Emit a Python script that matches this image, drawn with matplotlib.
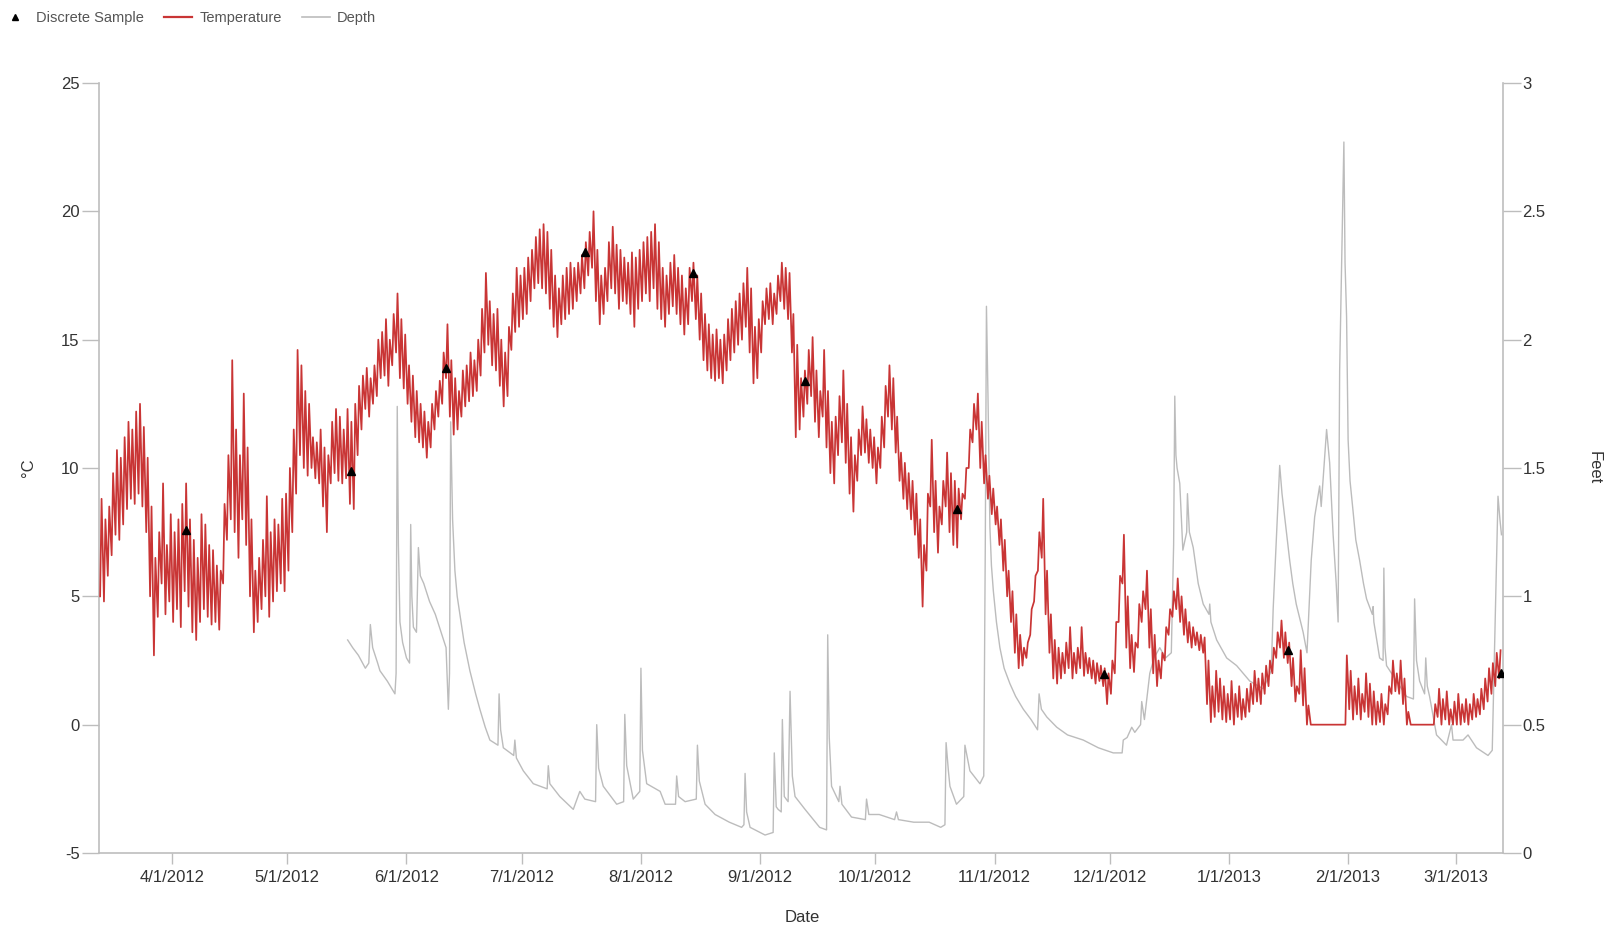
import numpy as np
import pandas as pd
import matplotlib
matplotlib.use("Agg")
import matplotlib.pyplot as plt
from matplotlib.lines import Line2D

plt.rcParams['font.family'] = ['Liberation Sans', 'DejaVu Sans']

START = "2012-03-13"

# daily maximum / minimum water temperature (deg C), one value per day from 3/13/2012
TEMP_MAX = (
    [8.8, 8.0, 8.5, 9.8, 10.7, 10.4, 11.2, 11.8, 11.5, 12.2, 12.5, 11.6, 10.4, 8.5, 6.5, 7.5, 9.4, 7.0, 8.2]
    + [7.5, 8.0, 8.6, 9.4, 8.0, 7.2, 6.5, 8.2, 7.8, 7.0, 6.8, 6.2, 6.0, 8.6, 10.5, 14.2, 11.5, 10.5, 12.9, 10.8,
       8.0, 6.0, 6.5, 7.2, 8.9, 7.5, 8.0, 7.8, 8.8, 9.0]
    + [10.0, 11.5, 14.6, 14.0, 13.0, 12.5, 11.2, 11.0, 11.5, 10.8, 10.5, 11.8, 12.3, 12.0, 11.5, 12.3, 11.8, 12.5,
       13.2, 13.6, 13.9, 13.5, 14.0, 15.0, 15.3, 15.8, 15.0, 16.0, 16.8, 15.8, 15.2]
    + [14.0, 13.6, 13.0, 12.5, 12.2, 11.8, 12.5, 13.0, 13.4, 14.5, 15.6, 14.2, 13.5, 13.0, 13.8, 14.0, 14.5, 14.2,
       15.0, 16.2, 17.6, 16.5, 16.0, 16.2, 15.0, 14.5, 15.5, 16.8, 17.8, 17.5]
    + [17.8, 18.2, 18.5, 19.0, 19.3, 19.5, 19.2, 18.5, 17.5, 17.0, 17.5, 17.8, 18.0, 17.8, 18.0, 18.3, 18.8, 19.2,
       20.0, 18.5, 17.5, 17.8, 18.8, 19.4, 18.7, 18.5, 18.2, 18.0, 18.4, 18.2, 18.5]
    + [18.8, 19.0, 19.2, 19.5, 18.8, 17.8, 17.5, 18.0, 18.3, 17.8, 17.5, 17.0, 17.8, 18.0, 17.5, 16.8, 16.0, 15.6,
       15.2, 15.4, 15.0, 15.2, 15.8, 16.2, 16.5, 16.8, 17.2, 17.8, 17.0, 15.5, 15.8]
    + [16.5, 17.0, 17.2, 16.8, 17.5, 18.0, 17.8, 17.6, 16.0, 14.8, 13.5, 13.8, 14.6, 15.1, 13.8, 13.0, 14.6, 13.0,
       11.8, 12.0, 12.8, 13.8, 12.5, 11.2, 10.5, 11.5, 12.4, 11.9, 11.5, 11.2]
    + [10.8, 12.0, 13.2, 14.0, 13.5, 12.0, 10.6, 10.2, 9.8, 9.5, 9.0, 8.0, 7.0, 9.0, 11.1, 9.5, 8.5, 9.5, 10.6,
       9.8, 9.5, 9.2, 9.0, 10.0, 11.5, 12.5, 12.9, 11.8, 10.5, 9.7, 9.2]
    + [8.5, 8.0, 7.2, 6.0, 5.2, 4.3, 3.5, 3.0, 3.2, 4.5, 5.8, 7.5, 8.8, 6.0, 4.3, 3.3, 3.0, 2.8, 3.2, 3.8, 2.8,
       3.0, 3.8, 2.8, 2.6, 2.5, 2.4, 2.3, 2.2, 2.0]
    + [2.5, 4.0, 5.8, 7.4, 5.0, 3.5, 3.2, 4.7, 5.2, 6.0, 4.5, 3.5, 2.5, 2.8, 3.8, 4.5, 5.2, 5.7, 5.0, 4.5, 4.0,
       3.8, 3.6, 3.5, 3.4, 2.5, 1.5, 2.1, 1.8, 1.5, 1.2]
    + [1.7, 1.2, 1.5, 1.0, 1.4, 1.6, 2.1, 1.8, 2.0, 2.3, 2.5, 3.0, 3.6, 4.06, 3.6, 3.2, 2.6, 1.5, 2.9, 2.2, 0.75,
       0.0, 0.0, 0.0, 0.0, 0.0, 0.0, 0.0, 0.0, 0.0, 2.7]
    + [2.1, 1.5, 1.8, 1.2, 2.0, 1.6, 1.3, 0.9, 1.2, 0.8, 1.5, 2.5, 2.0, 2.5, 1.8, 0.5, 0.0, 0.0, 0.0, 0.0, 0.0,
       0.0, 0.8, 1.4, 1.0, 1.3, 0.6, 0.9]
    + [1.2, 0.8, 1.0, 0.8, 1.2, 1.0, 1.4, 1.8, 2.2, 2.4, 2.8, 2.9]
)
TEMP_MIN = (
    [5.0, 4.8, 5.8, 6.6, 7.4, 7.2, 7.8, 8.4, 8.8, 8.6, 9.0, 8.5, 7.5, 5.0, 2.7, 4.2, 5.5, 4.3, 4.8]
    + [4.0, 4.5, 3.8, 5.2, 4.6, 3.6, 3.3, 4.0, 4.5, 4.2, 3.9, 4.0, 3.7, 5.5, 7.2, 8.0, 7.5, 6.5, 8.0, 7.0, 5.0,
       3.6, 4.0, 4.5, 5.0, 4.2, 4.8, 5.2, 5.5, 5.2]
    + [6.0, 7.5, 9.0, 10.5, 10.0, 9.7, 10.0, 9.6, 9.4, 8.5, 7.5, 9.4, 9.8, 9.5, 9.4, 9.6, 8.6, 8.4, 10.5, 11.5,
       12.3, 12.0, 12.5, 12.8, 13.5, 13.6, 13.2, 14.0, 14.5, 13.5, 13.1]
    + [12.5, 11.8, 11.2, 11.0, 10.8, 10.4, 10.8, 11.5, 12.0, 12.5, 13.5, 12.0, 11.3, 11.5, 12.0, 12.4, 12.6, 12.8,
       13.0, 13.6, 14.5, 14.8, 14.0, 13.8, 13.2, 12.4, 12.8, 14.6, 15.3, 15.5]
    + [15.8, 16.0, 16.5, 17.0, 17.2, 17.0, 16.8, 16.2, 15.5, 15.1, 15.6, 15.8, 16.0, 16.2, 16.5, 16.8, 17.0, 17.5,
       17.8, 16.5, 15.6, 16.0, 16.5, 17.0, 16.8, 16.2, 16.5, 16.4, 16.0, 15.5, 16.2]
    + [16.5, 16.8, 16.5, 17.0, 16.2, 15.8, 15.5, 16.0, 16.3, 16.0, 15.6, 15.2, 15.6, 16.5, 15.8, 15.0, 14.2, 13.8,
       13.5, 13.4, 13.5, 13.3, 13.8, 14.2, 14.5, 14.8, 15.0, 15.5, 14.5, 13.3, 13.5]
    + [14.5, 15.6, 15.8, 15.6, 16.0, 16.5, 16.2, 15.8, 14.5, 11.2, 11.5, 12.0, 12.5, 12.8, 11.8, 11.2, 12.0, 10.8,
       9.8, 9.4, 10.5, 11.0, 10.2, 9.0, 8.3, 9.5, 10.5, 10.6, 10.2, 10.0]
    + [9.4, 10.0, 10.8, 12.0, 11.5, 10.6, 9.5, 8.8, 8.4, 8.0, 7.4, 6.5, 4.6, 6.0, 8.5, 7.5, 6.7, 7.8, 8.5, 7.5,
       7.0, 6.9, 8.0, 8.8, 10.0, 11.0, 11.5, 10.0, 9.4, 8.8, 8.2]
    + [7.8, 7.0, 6.0, 5.0, 4.0, 2.8, 2.2, 2.3, 2.6, 3.5, 4.8, 6.0, 6.5, 4.3, 2.8, 1.8, 1.6, 1.8, 2.0, 2.2, 1.8,
       2.0, 2.2, 1.9, 2.0, 1.8, 1.6, 1.7, 1.5, 0.8]
    + [1.2, 2.0, 4.0, 5.5, 3.0, 2.2, 2.05, 3.0, 4.0, 4.5, 3.0, 2.0, 1.5, 1.8, 2.5, 3.5, 4.2, 4.5, 4.0, 3.5, 3.2,
       3.0, 3.1, 2.9, 2.8, 0.8, 0.1, 0.3, 0.5, 0.2, 0.1]
    + [0.2, 0.0, 0.3, 0.2, 0.3, 0.5, 0.8, 0.9, 0.8, 1.2, 1.5, 2.0, 2.6, 3.0, 2.6, 2.4, 1.5, 0.9, 1.2, 0.75, 0.0,
       0.0, 0.0, 0.0, 0.0, 0.0, 0.0, 0.0, 0.0, 0.0, 0.0]
    + [0.6, 0.2, 0.4, 0.2, 0.5, 0.3, 0.0, 0.0, 0.1, 0.0, 0.4, 1.2, 1.3, 1.2, 0.8, 0.0, 0.0, 0.0, 0.0, 0.0, 0.0,
       0.0, 0.0, 0.3, 0.0, 0.2, 0.0, 0.0]
    + [0.0, 0.0, 0.1, 0.0, 0.2, 0.3, 0.4, 0.6, 0.9, 1.2, 1.5, 1.8]
)

# depth record (feet): day offset from START and value
DEPTH_DAY = [64.7, 66, 67.5, 69.3, 70.2, 70.6, 71.2, 72.5, 73.1, 75, 77.0, 77.3, 77.6, 77.9, 78.3, 79, 80, 80.8,
             81.1, 81.4, 81.8, 82.6, 83.1, 83.6, 84.5, 86, 87.5, 89, 90.3, 90.9, 91.2, 91.5, 92.0, 92.6, 93.2,
             93.9, 95.0, 96.5, 98.0, 99.1, 100.5, 101.7, 103.8, 104.1, 104.5, 105.2, 107.9, 108.2, 108.6, 110.4,
             113.0, 116.6, 116.9, 117.3, 119.9, 123.4, 125.1, 126.4, 129.2, 129.5, 130.0, 131.2, 134.7, 136.5,
             136.8, 137.3, 139.0, 140.7, 141.0, 141.4, 142.5, 146.0, 147.3, 150.0, 150.3, 150.8, 152.5, 155.4,
             155.7, 156.2, 157.7, 160.3, 164, 167.2, 167.8, 168.1, 168.5, 169.4, 173.3, 175.4, 175.7, 176.2,
             176.7, 177.5, 177.8, 178.3, 179.3, 179.8, 180.4, 181.1, 183.7, 187.5, 189.3, 189.6, 190.0, 190.6,
             192.5, 192.8, 193.3, 195.8, 199.4, 199.7, 200.3, 203.0, 207.0, 207.5, 208.0, 212.0, 216.0, 219.0,
             220.1, 220.4, 221.0, 221.4, 223.1, 225.0, 225.3, 226.6, 229.2, 230.2, 230.6, 230.9, 231.3, 231.8,
             232.2, 232.7, 233.5, 234.4, 235.5, 237.0, 238.5, 240.5, 242.5, 244.2, 244.6, 245.2, 246.6, 249.2,
             252.0, 256.1, 260.0, 263.9, 266.2, 266.5, 267.5, 268.7, 269.5, 271.0, 271.3, 272.0, 273.4, 274.5,
             276.0, 277.5, 279.0, 279.6, 279.9, 280.2, 280.5, 281.2, 282.0, 283.0, 283.2, 283.7, 284.7, 286.0,
             287.3, 288.8, 289.0, 289.3, 290.8, 293.4, 296.0, 299.4, 302.9, 305.0, 305.5, 307.2, 307.8, 308.5,
             309.8, 310.6, 311.5, 313.3, 314.3, 315.4, 316.3, 317.6, 318.0, 319.4, 320.2, 321.1, 321.9, 322.4,
             322.8, 323.9, 324.2, 324.6, 325.0, 325.5, 326.3, 327.0, 328.0, 329.0, 329.8, 331.3, 331.5, 331.7,
             333.2, 334.1, 334.3, 334.6, 335.0, 337.6, 340.2, 342.0, 342.3, 342.8, 343.6, 344.9, 345.2, 345.6,
             346.2, 348.0, 350.6, 351.9, 352.3, 354.9, 356.2, 358.4, 361.4, 362.5, 363.2, 364.0, 364.5, 364.9]
DEPTH_FT = [0.83, 0.80, 0.77, 0.72, 0.74, 0.89, 0.80, 0.74, 0.71, 0.67, 0.62, 0.70, 1.74, 1.20, 0.90, 0.82, 0.76,
            0.74, 1.28, 1.00, 0.88, 0.86, 1.19, 1.08, 1.05, 0.98, 0.93, 0.86, 0.80, 0.56, 0.70, 1.68, 1.30, 1.10,
            1.00, 0.93, 0.82, 0.71, 0.62, 0.56, 0.49, 0.44, 0.42, 0.62, 0.48, 0.41, 0.38, 0.44, 0.37, 0.32,
            0.27, 0.25, 0.34, 0.27, 0.22, 0.17, 0.24, 0.21, 0.20, 0.50, 0.33, 0.26, 0.19, 0.20,
            0.54, 0.34, 0.21, 0.24, 0.72, 0.40, 0.27, 0.24, 0.19, 0.19, 0.30, 0.22, 0.20, 0.21,
            0.42, 0.28, 0.19, 0.15, 0.12, 0.10, 0.11, 0.31, 0.16, 0.10, 0.07, 0.08, 0.39, 0.18,
            0.17, 0.16, 0.52, 0.22, 0.20, 0.63, 0.30, 0.22, 0.17, 0.10, 0.09, 0.85, 0.45, 0.26,
            0.20, 0.26, 0.19, 0.14, 0.13, 0.21, 0.15, 0.15, 0.13, 0.16, 0.13, 0.12, 0.12, 0.10,
            0.11, 0.43, 0.32, 0.26, 0.19, 0.22, 0.42, 0.32, 0.27, 0.30, 1.20, 2.13, 1.78, 1.27,
            1.12, 1.02, 0.90, 0.80, 0.72, 0.66, 0.61, 0.56, 0.52, 0.48, 0.62, 0.56, 0.53, 0.49,
            0.46, 0.44, 0.41, 0.39, 0.39, 0.44, 0.45, 0.49, 0.47, 0.50, 0.59, 0.52, 0.70, 0.76,
            0.80, 0.76, 0.78, 1.20, 1.78, 1.55, 1.50, 1.44, 1.18, 1.25, 1.40, 1.25, 1.19, 1.05,
            0.97, 0.93, 0.97, 0.90, 0.83, 0.76, 0.73, 0.67, 0.64, 0.71, 0.95, 1.51, 1.40, 1.31,
            1.14, 1.05, 0.97, 0.86, 0.78, 1.14, 1.31, 1.43, 1.35, 1.65, 1.52, 1.24, 1.05, 0.90,
            1.88, 2.77, 2.30, 2.09, 1.61, 1.45, 1.33, 1.22, 1.14, 1.05, 0.99, 0.93, 0.96, 0.90,
            0.76, 0.75, 1.11, 0.80, 0.73, 0.67, 0.61, 0.60, 0.99, 0.75, 0.67, 0.62, 0.76, 0.65,
            0.61, 0.46, 0.42, 0.50, 0.44, 0.44, 0.46, 0.41, 0.38, 0.40, 0.86, 1.39, 1.30, 1.24]

# discrete samples (day offset from START, deg C)
SAMPLE_DAY = [22.6, 65.6, 90.4, 126.4, 154.6, 183.7, 223.3, 261.5, 309.4, 364.9]
SAMPLE_C = [7.6, 9.9, 13.9, 18.4, 17.6, 13.4, 8.4, 1.96, 2.9, 2.0]

XTICK_DATES = ["2012-04-01", "2012-05-01", "2012-06-01", "2012-07-01", "2012-08-01", "2012-09-01",
               "2012-10-01", "2012-11-01", "2012-12-01", "2013-01-01", "2013-02-01", "2013-03-01"]
XTICK_LABELS = ["4/1/2012", "5/1/2012", "6/1/2012", "7/1/2012", "8/1/2012", "9/1/2012", "10/1/2012",
                "11/1/2012", "12/1/2012", "1/1/2013", "2/1/2013", "3/1/2013"]
YTICKS_C = [-5, 0, 5, 10, 15, 20, 25]
YTICKS_FT = [0, 0.5, 1, 1.5, 2, 2.5, 3]
YTICK_FT_LABELS = ["0", "0.5", "1", "1.5", "2", "2.5", "3"]

assert len(TEMP_MAX) == len(TEMP_MIN) == 365
assert len(DEPTH_DAY) == len(DEPTH_FT)

start = pd.Timestamp(START)
days = np.arange(len(TEMP_MAX))
t_min = start + pd.to_timedelta(days + 7 / 24, unit="D")
t_max = start + pd.to_timedelta(days + 16 / 24, unit="D")
temp_t = np.empty(2 * len(days), dtype="datetime64[ns]")
temp_v = np.empty(2 * len(days))
temp_t[0::2] = t_min.values
temp_t[1::2] = t_max.values
temp_v[0::2] = TEMP_MIN
temp_v[1::2] = TEMP_MAX

depth_t = start + pd.to_timedelta(np.array(DEPTH_DAY), unit="D")
sample_t = start + pd.to_timedelta(np.array(SAMPLE_DAY), unit="D")

RED = "#c93535"
GREY = "#bcbcbc"
SPINE = "#bdbdbd"
TXT = "#333333"

fig = plt.figure(figsize=(16.12, 9.32), dpi=100)
ax = fig.add_axes([99 / 1612, 1 - 853 / 932, (1503 - 99) / 1612, (853 - 83) / 932])
ax2 = ax.twinx()

ax2.plot(depth_t, DEPTH_FT, color=GREY, lw=1.0, zorder=2)
ax.plot(temp_t, temp_v, color=RED, lw=1.25, zorder=3)
ax.plot(sample_t, SAMPLE_C, linestyle="none", marker="^", color="black", markersize=6, zorder=5)

ax.set_zorder(ax2.get_zorder() + 1)
ax.patch.set_visible(False)

ax.set_xlim(start, start + pd.Timedelta(days=365.3))
ax.set_ylim(-5, 25)
ax2.set_ylim(0, 3)

ax.set_xticks(pd.to_datetime(XTICK_DATES))
ax.set_xticklabels(XTICK_LABELS)
ax.set_yticks(YTICKS_C)
ax.set_yticklabels([str(v) for v in YTICKS_C])
ax2.set_yticks(YTICKS_FT)
ax2.set_yticklabels(YTICK_FT_LABELS)

for a in (ax, ax2):
    for s in a.spines.values():
        s.set_color(SPINE)
        s.set_linewidth(1.2)
    a.spines["top"].set_visible(False)
ax.spines["right"].set_visible(False)
ax2.spines["left"].set_visible(False)
ax2.spines["bottom"].set_visible(False)

ax.tick_params(axis="y", length=12, width=1, color=SPINE, labelsize=12, labelcolor=TXT, pad=2)
ax.tick_params(axis="x", length=8, width=1, color=SPINE, labelsize=12, labelcolor=TXT, pad=4)
ax2.tick_params(axis="y", length=13, width=1, color=SPINE, labelsize=12, labelcolor=TXT, pad=1)

fig.text(29 / 1612, 1 - 468 / 932, "°C", rotation=90, ha="center", va="center", fontsize=12, color=TXT)
fig.text(1594 / 1612, 1 - 468 / 932, "Feet", rotation=270, ha="center", va="center", fontsize=12, color=TXT)
fig.text(802 / 1612, 1 - 918 / 932, "Date", ha="center", va="center", fontsize=12, color=TXT)

handles = [
    Line2D([], [], linestyle="none", marker="^", color="black", markersize=5),
    Line2D([], [], color=RED, lw=1.6),
    Line2D([], [], color=GREY, lw=1.2),
]
leg = fig.legend(handles, ["Discrete Sample", "Temperature", "Depth"], loc="upper left",
                 bbox_to_anchor=(-0.0075, 1.002), ncol=3, frameon=False, fontsize=10.5,
                 handlelength=1.9, handletextpad=0.5, columnspacing=1.4)
for t in leg.get_texts():
    t.set_color("#555555")

fig.savefig("out.png", dpi=100)
